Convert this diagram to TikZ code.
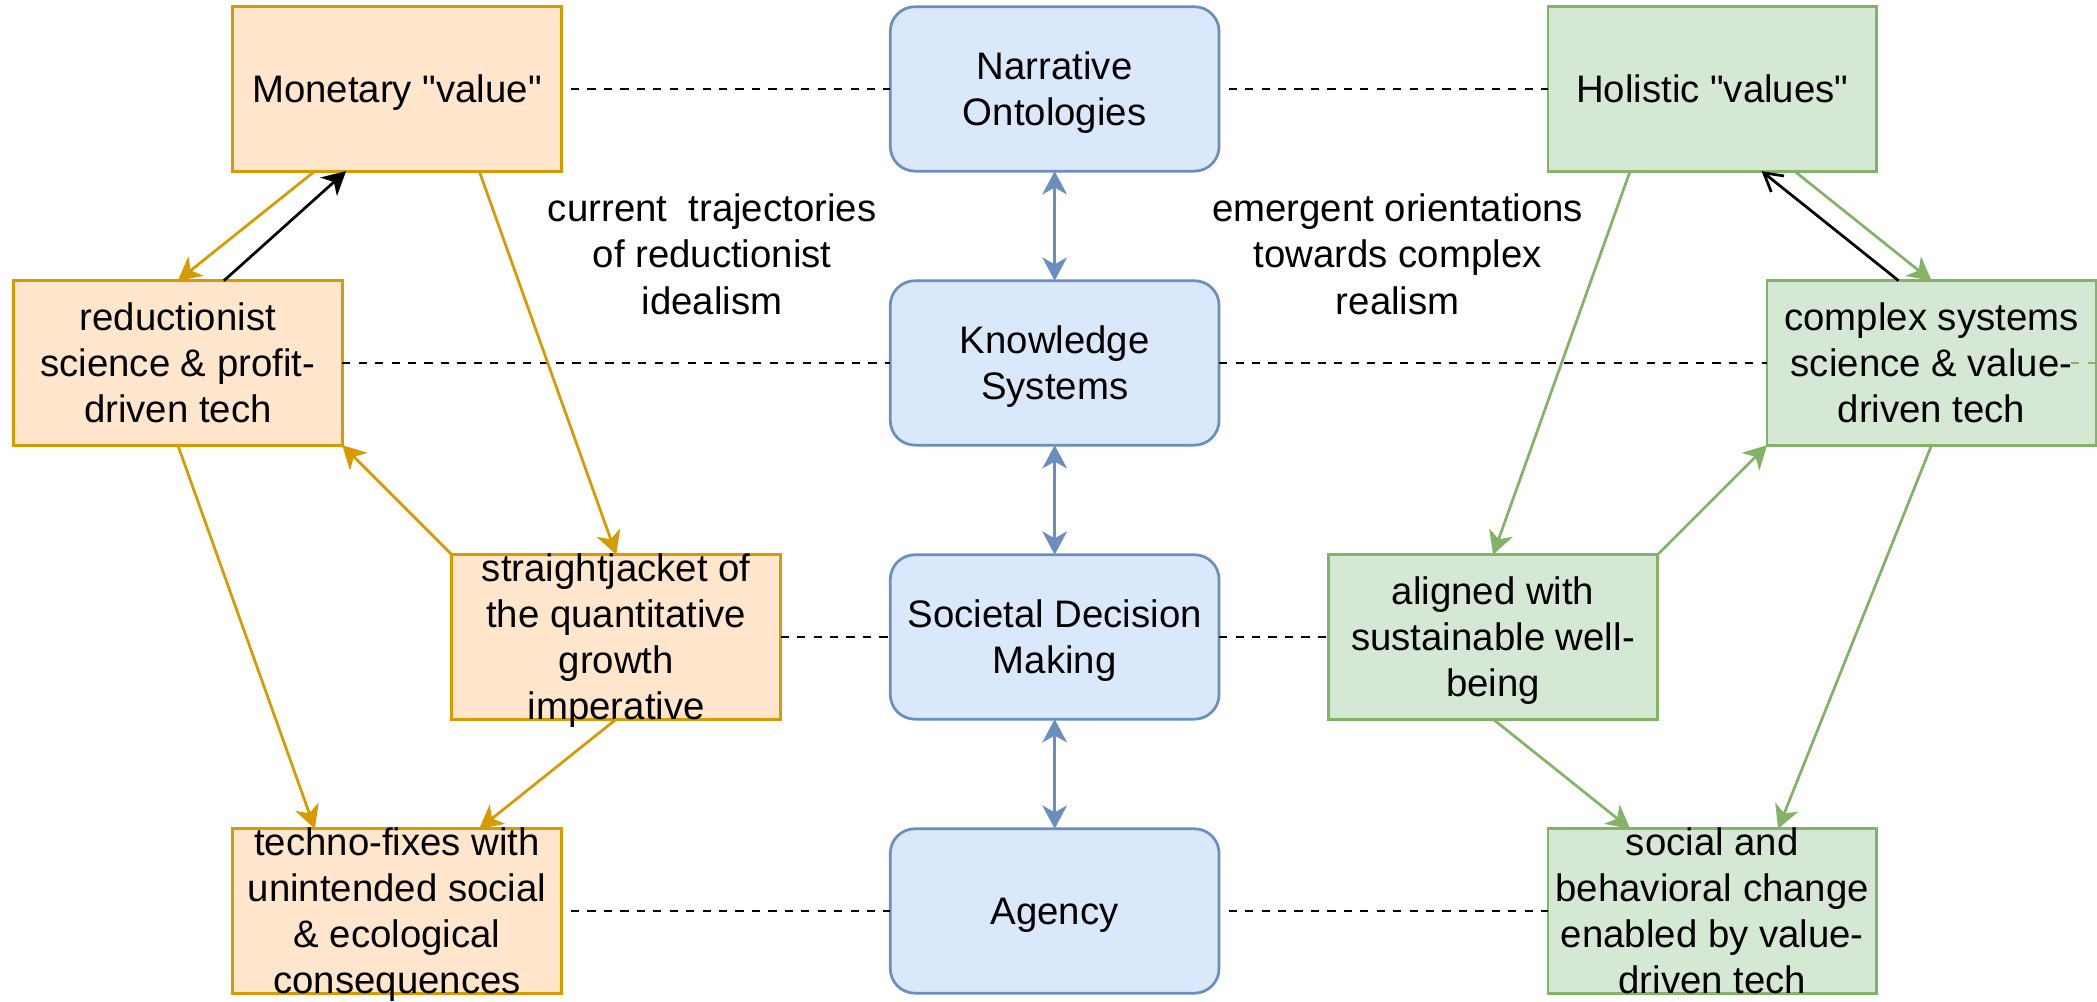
\documentclass[tikz,border=0pt]{standalone}
\usepackage{fontspec}
\setmainfont{Liberation Sans}
\usetikzlibrary{arrows.meta,calc}
\definecolor{ofill}{HTML}{FFE6CC}
\definecolor{oline}{HTML}{D79B00}
\definecolor{bfill}{HTML}{DAE8FC}
\definecolor{bline}{HTML}{6C8EBF}
\definecolor{gfill}{HTML}{D5E8D4}
\definecolor{gline}{HTML}{82B366}
\newcommand{\dstrut}{\rule[-3.55pt]{0pt}{16.8pt}}
\newcommand{\dq}{\textquotedbl}
\begin{document}
\begin{tikzpicture}[x=1pt,y=-1pt,
  basebox/.style={rectangle,minimum width=120pt,minimum height=60pt,inner sep=0pt,outer sep=0pt,line width=1pt},
  obox/.style={basebox,draw=oline,fill=ofill},
  bbox/.style={basebox,draw=bline,fill=bfill,rounded corners=9pt},
  gbox/.style={basebox,draw=gline,fill=gfill},
  txt/.style={align=center,inner sep=0pt,font=\fontsize{14pt}{16.8pt}\selectfont},
  dioarrow/.tip={Stealth[length=8.5pt,width=9pt,inset=2.5pt]},
  oarrow/.style={draw=oline,line width=1pt,arrows={-dioarrow}},
  garrow/.style={draw=gline,line width=1pt,arrows={-dioarrow}},
  karrow/.style={draw=black,line width=1pt,arrows={-dioarrow}},
  kopen/.style={draw=black,line width=1pt,arrows={-{Straight Barb[length=6.5pt,width=7.5pt]}}},
  barrow/.style={draw=bline,line width=1pt,arrows={dioarrow-dioarrow}},
  dline/.style={draw=black,line width=1pt,dash pattern=on 3pt off 3pt},
  gdline/.style={draw=gline,line width=1pt,dash pattern=on 3pt off 3pt}
]
\useasboundingbox (-4.9,-2.45) rectangle (760.4,362.9);

% boxes
\node[obox] (A) at (140,30) {};
\node[obox] (B) at (60,130) {};
\node[obox] (C) at (220,230) {};
\node[obox] (T) at (140,330) {};
\node[bbox] (D1) at (380,30) {};
\node[bbox] (D2) at (380,130) {};
\node[bbox] (D3) at (380,230) {};
\node[bbox] (D4) at (380,330) {};
\node[gbox] (F) at (620,30) {};
\node[gbox] (G) at (700,130) {};
\node[gbox] (E) at (540,230) {};
\node[gbox] (S) at (620,330) {};

% dashed links
\draw[dline] ([xshift=3.5pt]A.east) -- (D1.west);
\draw[dline] ([xshift=3.5pt]D1.east) -- (F.west);
\draw[dline] (B.east) -- (D2.west);
\draw[dline] (D2.east) -- (G.west);
\draw[dline] (C.east) -- (D3.west);
\draw[dline] (D3.east) -- (E.west);
\draw[dline] ([xshift=3.5pt]T.east) -- (D4.west);
\draw[dline] ([xshift=3.5pt]D4.east) -- (S.west);
\coordinate (gd1) at (751,130);
\coordinate (gd2) at (762,130);
\draw[gdline] (gd1) -- (gd2);

% texts
\node[txt] (At) at (A) {\dstrut Monetary \dq value\dq};
\node[txt] (Bt) at (B) {\dstrut reductionist\\\dstrut science \& profit-\\\dstrut driven tech};
\node[txt] (Ct) at (C) {\dstrut straightjacket of\\\dstrut the quantitative\\\dstrut growth\\\dstrut imperative};
\node[txt] (Tt) at (T) {\dstrut techno-fixes with\\\dstrut unintended social\\\dstrut \& ecological\\\dstrut consequences};
\node[txt] (D1t) at (D1) {\dstrut Narrative\\\dstrut Ontologies};
\node[txt] (D2t) at (D2) {\dstrut Knowledge\\\dstrut Systems};
\node[txt] (D3t) at (D3) {\dstrut Societal Decision\\\dstrut Making};
\node[txt] (D4t) at (D4) {\dstrut Agency};
\node[txt] (Ft) at (F) {\dstrut Holistic \dq values\dq};
\node[txt] (Gt) at (G) {\dstrut complex systems\\\dstrut science \& value-\\\dstrut driven tech};
\node[txt] (Et) at (E) {\dstrut aligned with\\\dstrut sustainable well-\\\dstrut being};
\node[txt] (St) at (S) {\dstrut social and\\\dstrut behavioral change\\\dstrut enabled by value-\\\dstrut driven tech};
\node[txt] (LL) at (255,90.5) {\dstrut current\ \ trajectories\\\dstrut of reductionist\\\dstrut idealism};
\node[txt] (LR) at (505.2,90.5) {\dstrut emergent orientations\\\dstrut towards complex\\\dstrut realism};

% left (orange) connectors
\draw[oarrow] ($(A.south west)!0.25!(A.south east)$) -- (B.north);
\draw[karrow] ($(B.north west)!0.64!(B.north east)$) -- ($(A.south west)!0.345!(A.south east)$);
\draw[oarrow] ($(A.south west)!0.75!(A.south east)$) -- (C.north);
\draw[oarrow] (C.north west) -- (B.south east);
\draw[oarrow] (B.south) -- ($(T.north west)!0.25!(T.north east)$);
\draw[oarrow] (C.south) -- ($(T.north west)!0.75!(T.north east)$);

% right (green) connectors
\draw[garrow] ($(F.south west)!0.25!(F.south east)$) -- (E.north);
\draw[garrow] ($(F.south west)!0.75!(F.south east)$) -- (G.north);
\draw[kopen] ($(G.north west)!0.4!(G.north east)$) -- ($(F.south west)!0.65!(F.south east)$);
\draw[garrow] (E.north east) -- (G.south west);
\draw[garrow] (G.south) -- ($(S.north west)!0.7!(S.north east)$);
\draw[garrow] (E.south) -- ($(S.north west)!0.25!(S.north east)$);

% centre (blue) connectors
\draw[barrow] (D1.south) -- (D2.north);
\draw[barrow] (D2.south) -- (D3.north);
\draw[barrow] (D3.south) -- (D4.north);
\end{tikzpicture}
\end{document}
